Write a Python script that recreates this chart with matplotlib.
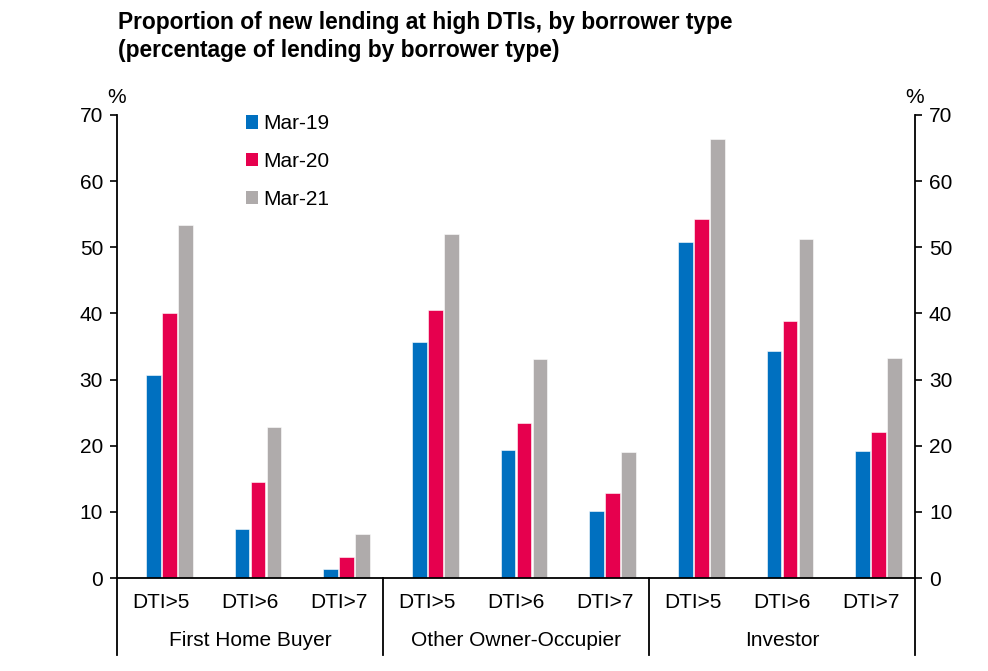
import matplotlib
matplotlib.use("Agg")
import matplotlib.pyplot as plt
import matplotlib.transforms as mtransforms
from matplotlib.patches import Patch
import numpy as np

plt.rcParams['font.family'] = ['Liberation Sans', 'DejaVu Sans']

groups = ["First Home Buyer", "Other Owner-Occupier", "Investor"]
thresholds = ["DTI>5", "DTI>6", "DTI>7"]
series_names = ["Mar-19", "Mar-20", "Mar-21"]
mar19 = [30.7, 7.4, 1.3, 35.7, 19.3, 10.2, 50.8, 34.3, 19.2]
mar20 = [40.0, 14.5, 3.2, 40.5, 23.5, 12.9, 54.3, 38.8, 22.1]
mar21 = [53.4, 22.9, 6.7, 52.0, 33.1, 19.0, 66.4, 51.3, 33.2]
colors = ["#0070C0", "#E6004E", "#AFABAB"]

FS = 15

fig = plt.figure(figsize=(9.88, 6.71), dpi=100)
ax = fig.add_axes([117/988, 1-578/671, (915-117)/988, (578-115)/671])

n = len(mar19)
x = np.arange(n)
offsets = [-0.09, 0.09, 0.27]
width = 0.165
for vals, off, c, name in zip([mar19, mar20, mar21], offsets, colors, series_names):
    ax.bar(x + off, vals, width=width, color=c, edgecolor='white', linewidth=0.4, label=name)

ax.set_xlim(-0.5, n - 0.5)
ax.set_ylim(0, 70)
ax.set_yticks(range(0, 71, 10))
ax.tick_params(axis='y', direction='out', length=5, width=1.2, labelsize=FS, pad=5)
ax.set_xticks(x)
ax.set_xticklabels(thresholds * 3, fontsize=FS)
ax.tick_params(axis='x', length=0, pad=11)
for s in ['top', 'right']:
    ax.spines[s].set_visible(False)
ax.spines['left'].set_linewidth(1.3)
ax.spines['bottom'].set_linewidth(1.3)

ax2 = ax.twinx()
ax2.set_ylim(0, 70)
ax2.set_yticks(range(0, 71, 10))
ax2.tick_params(axis='y', direction='out', length=5, width=1.2, labelsize=FS, pad=5)
for s in ['top', 'left', 'bottom']:
    ax2.spines[s].set_visible(False)
ax2.spines['right'].set_linewidth(1.3)

trans = mtransforms.blended_transform_factory(ax.transData, ax.transAxes)
ybot = -(655 - 578) / 463
for xd in [-0.5, 2.5, 5.5, 8.5]:
    ax.plot([xd, xd], [0, ybot], transform=trans, color='black', lw=1.3, clip_on=False)
for i, g in enumerate(groups):
    ax.text(3 * i + 1, -(641 - 578) / 463, g, transform=trans, ha='center', va='center', fontsize=FS)

ax.text(0, 1.037, "%", transform=ax.transAxes, ha='center', va='center', fontsize=FS)
ax.text(1, 1.037, "%", transform=ax.transAxes, ha='center', va='center', fontsize=FS)

handles = [Patch(facecolor=c, edgecolor='none', label=nm) for c, nm in zip(colors, series_names)]
ax.legend(handles=handles, loc='upper left', bbox_to_anchor=(0.138, 1.042), frameon=False,
          fontsize=FS, handlelength=0.6, handleheight=0.6, handletextpad=0.25, labelspacing=0.9)

fig.text(118/988, 1 - 23/671, "Proportion of new lending at high DTIs, by borrower type",
         fontsize=16.4, fontweight='bold', ha='left', va='center')
fig.text(118/988, 1 - 51/671, "(percentage of lending by borrower type)",
         fontsize=16.4, fontweight='bold', ha='left', va='center')

fig.savefig("out.png", dpi=100)
